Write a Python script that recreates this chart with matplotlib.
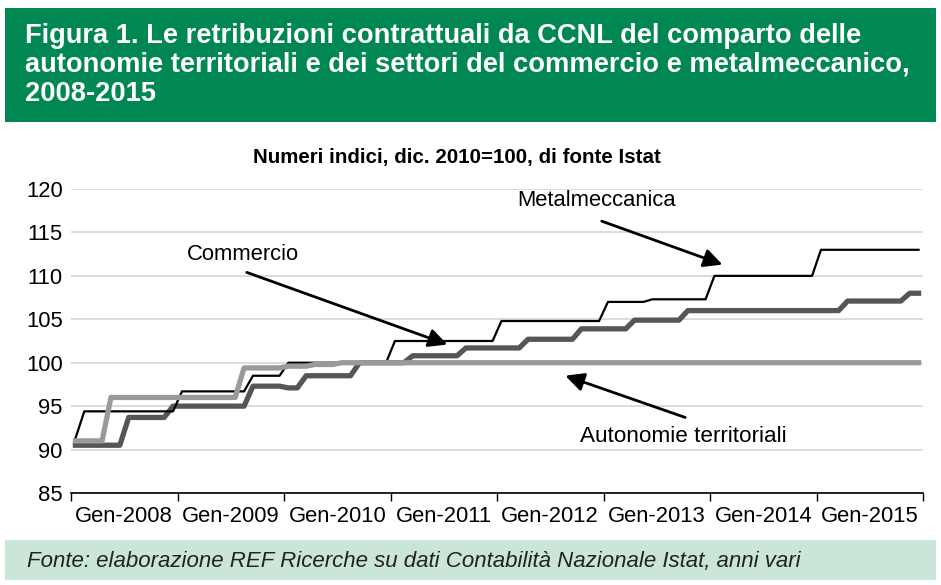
import numpy as np
import matplotlib
matplotlib.use("Agg")
import matplotlib.pyplot as plt
from matplotlib.patches import Rectangle

plt.rcParams['font.family'] = ['Liberation Sans', 'DejaVu Sans']

# monthly index values, Jan 2008 - Dec 2015 (one row per year)
metalmeccanica = [
    91.3, 94.4, 94.4, 94.4, 94.4, 94.4, 94.4, 94.4, 94.4, 94.4, 94.4, 94.4,
    96.7, 96.7, 96.7, 96.7, 96.7, 96.7, 96.7, 96.7, 98.5, 98.5, 98.5, 98.5,
    100.0, 100.0, 100.0, 100.0, 100.0, 100.0, 100.0, 100.0, 100.0, 100.0, 100.0, 100.0,
    102.5, 102.5, 102.5, 102.5, 102.5, 102.5, 102.5, 102.5, 102.5, 102.5, 102.5, 102.5,
    104.8, 104.8, 104.8, 104.8, 104.8, 104.8, 104.8, 104.8, 104.8, 104.8, 104.8, 104.8,
    107.0, 107.0, 107.0, 107.0, 107.0, 107.3, 107.3, 107.3, 107.3, 107.3, 107.3, 107.3,
    110.0, 110.0, 110.0, 110.0, 110.0, 110.0, 110.0, 110.0, 110.0, 110.0, 110.0, 110.0,
    113.0, 113.0, 113.0, 113.0, 113.0, 113.0, 113.0, 113.0, 113.0, 113.0, 113.0, 113.0,
]
commercio = [
    90.5, 90.5, 90.5, 90.5, 90.5, 90.5, 93.7, 93.7, 93.7, 93.7, 93.7, 95.0,
    95.0, 95.0, 95.0, 95.0, 95.0, 95.0, 95.0, 95.0, 97.3, 97.3, 97.3, 97.3,
    97.1, 97.1, 98.5, 98.5, 98.5, 98.5, 98.5, 98.5, 100.0, 100.0, 100.0, 100.0,
    100.0, 100.0, 100.8, 100.8, 100.8, 100.8, 100.8, 100.8, 101.7, 101.7, 101.7, 101.7,
    101.7, 101.7, 101.7, 102.7, 102.7, 102.7, 102.7, 102.7, 102.7, 103.9, 103.9, 103.9,
    103.9, 103.9, 103.9, 104.9, 104.9, 104.9, 104.9, 104.9, 104.9, 106.0, 106.0, 106.0,
    106.0, 106.0, 106.0, 106.0, 106.0, 106.0, 106.0, 106.0, 106.0, 106.0, 106.0, 106.0,
    106.0, 106.0, 106.0, 107.1, 107.1, 107.1, 107.1, 107.1, 107.1, 107.1, 108.0, 108.0,
]
autonomie = [
    91.0, 91.0, 91.0, 91.0, 96.0, 96.0, 96.0, 96.0, 96.0, 96.0, 96.0, 96.0,
    96.0, 96.0, 96.0, 96.0, 96.0, 96.0, 96.0, 99.4, 99.4, 99.4, 99.4, 99.4,
    99.6, 99.6, 99.6, 99.8, 99.8, 99.8, 100.0, 100.0, 100.0, 100.0, 100.0, 100.0,
    100.0, 100.0, 100.0, 100.0, 100.0, 100.0, 100.0, 100.0, 100.0, 100.0, 100.0, 100.0,
    100.0, 100.0, 100.0, 100.0, 100.0, 100.0, 100.0, 100.0, 100.0, 100.0, 100.0, 100.0,
    100.0, 100.0, 100.0, 100.0, 100.0, 100.0, 100.0, 100.0, 100.0, 100.0, 100.0, 100.0,
    100.0, 100.0, 100.0, 100.0, 100.0, 100.0, 100.0, 100.0, 100.0, 100.0, 100.0, 100.0,
    100.0, 100.0, 100.0, 100.0, 100.0, 100.0, 100.0, 100.0, 100.0, 100.0, 100.0, 100.0,
]
year_labels = ["Gen-2008", "Gen-2009", "Gen-2010", "Gen-2011",
               "Gen-2012", "Gen-2013", "Gen-2014", "Gen-2015"]
y_ticks = [85, 90, 95, 100, 105, 110, 115, 120]

months = np.arange(len(metalmeccanica))

fig = plt.figure(figsize=(9.41, 5.85), dpi=100)

# green header and footer boxes
fig.patches.append(Rectangle((0.0053, 0.792), 0.9894, 0.195, transform=fig.transFigure,
                             facecolor='#008752', edgecolor='none'))
fig.patches.append(Rectangle((0.0053, 0.0085), 0.9894, 0.068, transform=fig.transFigure,
                             facecolor='#c9e6d8', edgecolor='none'))

title_lines = ["Figura 1. Le retribuzioni contrattuali da CCNL del comparto delle",
               "autonomie territoriali e dei settori del commercio e metalmeccanico,",
               "2008-2015"]
for i, line in enumerate(title_lines):
    fig.text(25 / 941, 1 - (36 + 29 * i) / 585, line, color='white', fontsize=19.6,
             fontweight='bold', va='center', ha='left')

fig.text(27 / 941, 1 - 561 / 585,
         "Fonte: elaborazione REF Ricerche su dati Contabilità Nazionale Istat, anni vari",
         fontsize=16, style='italic', color='#222222', va='center', ha='left')

fig.text(457 / 941, 1 - 158 / 585, "Numeri indici, dic. 2010=100, di fonte Istat",
         fontsize=14.8, fontweight='bold', ha='center', va='center')

ax = fig.add_axes([71 / 941, 92 / 585, 852 / 941, 304 / 585])
ax.plot(months, commercio, color='#565656', lw=3.8, zorder=3)
ax.plot(months, metalmeccanica, color='black', lw=1.6, zorder=4)
ax.plot(months, autonomie, color='#9a9a9a', lw=3.8, zorder=5)

ax.set_xlim(-0.5, 95.5)
ax.set_ylim(85, 120)
ax.set_yticks(y_ticks)
ax.tick_params(axis='y', length=0, labelsize=15.8, pad=6)
ax.grid(axis='y', color='#d9d9d9', lw=1.3)
ax.set_axisbelow(True)

ax.set_xticks(np.arange(-0.5, 96, 12))
ax.set_xticklabels([])
ax.set_xticks(np.arange(5.5, 96, 12), minor=True)
ax.set_xticklabels(year_labels, minor=True)
ax.tick_params(axis='x', which='major', length=6, width=1, direction='out')
ax.tick_params(axis='x', which='minor', length=0, labelsize=15.8, pad=9)

for s in ['left', 'right', 'top']:
    ax.spines[s].set_visible(False)
ax.spines['bottom'].set_linewidth(1.2)

arrow = dict(arrowstyle='-|>', color='black', lw=2, mutation_scale=28,
             shrinkA=0, shrinkB=0)
ax.text(58.7, 118.7, "Metalmeccanica", fontsize=15.8, ha='center', va='center')
ax.annotate("", xy=(72.9, 111.3), xytext=(59.3, 116.3), arrowprops=arrow)
ax.text(18.9, 112.5, "Commercio", fontsize=15.8, ha='center', va='center')
ax.annotate("", xy=(41.9, 102.1), xytext=(19.3, 110.4), arrowprops=arrow)
ax.text(68.5, 91.5, "Autonomie territoriali", fontsize=16.2, ha='center', va='center')
ax.annotate("", xy=(55.2, 98.5), xytext=(68.7, 93.7), arrowprops=arrow)

fig.savefig("out.png", dpi=100)
